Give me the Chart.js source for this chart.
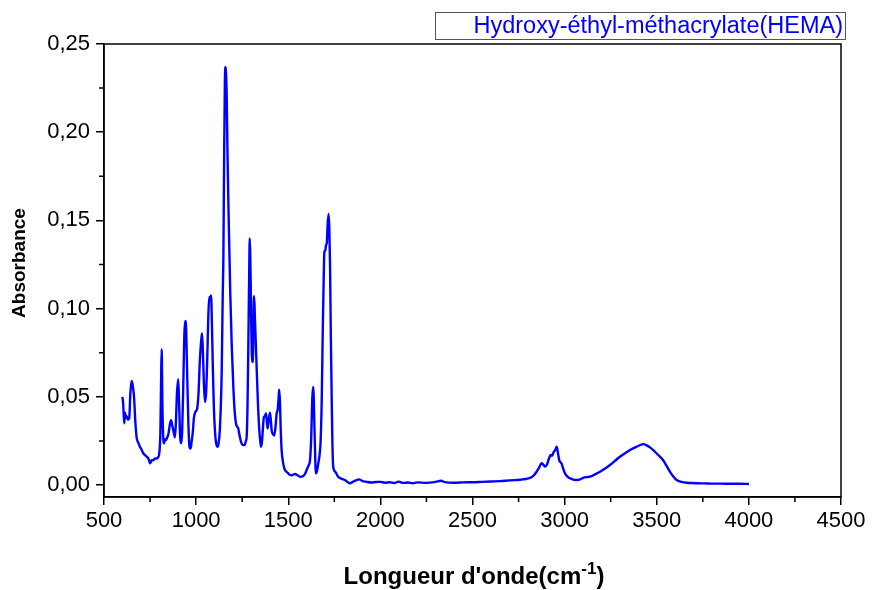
<!DOCTYPE html>
<html><head><meta charset="utf-8">
<script src="https://cdn.jsdelivr.net/npm/chart.js@4.4.1/dist/chart.umd.min.js"></script>
<style>html,body{margin:0;padding:0;background:#fff;}#wrap{width:873px;height:590px;}</style>
</head><body><div id="wrap"><canvas id="c" width="873" height="590"></canvas></div>
<script>
const waveNumbers = [600,604,610,614,619,623,630,637,643,650,655,663,670,677,686,695,704,713,722,732,741,750,759,768,777,786,795,800,806,810,813,817,822,826,831,836,843,850,857,864,870,876,880,885,890,896,903,908,913,918,924,930,936,941,946,952,958,964,970,976,982,988,994,1000,1006,1013,1020,1026,1032,1037,1042,1048,1054,1060,1066,1071,1076,1081,1086,1091,1096,1102,1108,1115,1121,1128,1134,1139,1144,1148,1152,1156,1159,1162,1166,1170,1175,1180,1185,1193,1202,1209,1216,1223,1229,1234,1238,1245,1253,1260,1265,1270,1274,1279,1284,1288,1291,1294,1298,1302,1305,1309,1312,1315,1319,1324,1329,1336,1343,1348,1352,1358,1363,1368,1373,1379,1384,1388,1394,1401,1406,1410,1416,1423,1430,1437,1443,1448,1451,1455,1459,1464,1473,1482,1491,1500,1509,1520,1530,1537,1550,1564,1580,1592,1600,1610,1618,1625,1630,1634,1637,1640,1644,1648,1651,1656,1663,1670,1676,1682,1687,1692,1696,1701,1705,1709,1714,1719,1723,1727,1731,1736,1740,1744,1755,1771,1790,1808,1820,1835,1850,1871,1885,1900,1925,1950,1975,2000,2025,2050,2075,2100,2125,2150,2175,2200,2250,2300,2330,2350,2400,2450,2500,2550,2600,2650,2700,2758,2790,2812,2830,2848,2862,2875,2885,2893,2905,2915,2925,2932,2940,2950,2957,2964,2971,2978,2984,2993,3002,3015,3029,3047,3065,3085,3101,3120,3137,3165,3192,3220,3246,3273,3300,3328,3355,3380,3405,3427,3450,3465,3481,3508,3535,3555,3572,3590,3608,3635,3662,3690,3717,3760,3800,3850,3900,3950,4000];
const absorbance = [0.050,0.046,0.035,0.041,0.038,0.039,0.037,0.038,0.052,0.059,0.057,0.050,0.036,0.027,0.024,0.0217,0.020,0.018,0.017,0.016,0.015,0.0123,0.014,0.014,0.015,0.015,0.016,0.018,0.030,0.060,0.077,0.045,0.026,0.0236,0.026,0.0255,0.027,0.029,0.034,0.0368,0.034,0.031,0.029,0.027,0.035,0.052,0.060,0.045,0.028,0.0236,0.030,0.055,0.085,0.093,0.088,0.060,0.035,0.0215,0.0207,0.025,0.030,0.038,0.041,0.042,0.0435,0.052,0.070,0.080,0.086,0.075,0.058,0.047,0.052,0.070,0.095,0.1065,0.106,0.1075,0.090,0.065,0.045,0.031,0.024,0.0217,0.023,0.030,0.045,0.065,0.105,0.130,0.185,0.228,0.237,0.234,0.220,0.190,0.160,0.135,0.110,0.080,0.0556,0.042,0.035,0.033,0.032,0.029,0.027,0.024,0.0226,0.0226,0.023,0.025,0.027,0.045,0.085,0.120,0.1397,0.130,0.100,0.075,0.0697,0.075,0.100,0.107,0.095,0.080,0.065,0.045,0.031,0.025,0.0217,0.025,0.033,0.0386,0.039,0.0405,0.036,0.032,0.037,0.041,0.036,0.031,0.029,0.028,0.032,0.0405,0.043,0.050,0.054,0.047,0.032,0.0198,0.012,0.0085,0.0075,0.0066,0.0057,0.0055,0.0060,0.0062,0.0055,0.0047,0.0050,0.0065,0.0085,0.011,0.014,0.028,0.048,0.054,0.0556,0.042,0.025,0.010,0.0066,0.008,0.0123,0.017,0.0255,0.050,0.0858,0.115,0.132,0.133,0.136,0.137,0.148,0.1537,0.145,0.1235,0.085,0.048,0.022,0.0104,0.0075,0.0047,0.0035,0.0028,0.0018,0.0010,0.0018,0.0028,0.0032,0.0024,0.0018,0.0014,0.0017,0.0018,0.0013,0.0016,0.0011,0.0019,0.0012,0.0014,0.0010,0.0015,0.0012,0.0018,0.0024,0.0016,0.0013,0.0015,0.0016,0.0018,0.0020,0.0022,0.0026,0.0030,0.0034,0.0040,0.0052,0.0075,0.0100,0.0123,0.0115,0.0105,0.0118,0.015,0.017,0.0165,0.0185,0.020,0.0217,0.018,0.014,0.0128,0.0120,0.0090,0.0066,0.0048,0.0038,0.0031,0.0028,0.0032,0.0041,0.0045,0.0047,0.0060,0.0075,0.0094,0.0113,0.0137,0.0160,0.0180,0.0198,0.0212,0.0224,0.0232,0.0222,0.0212,0.0198,0.0170,0.0140,0.0105,0.0075,0.0048,0.0028,0.0018,0.0013,0.0011,0.0010,0.0009,0.0008,0.0008,0.0007,0.0007,0.0006];
const xMajorTicks = [500,1000,1500,2000,2500,3000,3500,4000,4500];
const xMinorTicks = [750,1250,1750,2250,2750,3250,3750,4250];
const yMajorTicks = [0,0.05,0.10,0.15,0.20,0.25];
const yMinorTicks = [0.025,0.075,0.125,0.175,0.225];
const seriesLabel = 'Hydroxy-éthyl-méthacrylate(HEMA)';
const xTitleMain = "Longueur d'onde(cm";
const xTitleSup = '-1';
const xTitleEnd = ')';
const yTitle = 'Absorbance';

const FONT = '"Liberation Sans", Arial, sans-serif';

const decor = {
  id: 'decor',
  afterDraw(chart) {
    const ctx = chart.ctx, a = chart.chartArea;
    const xs = chart.scales.x, ys = chart.scales.y;
    ctx.save();
    ctx.strokeStyle = '#000';
    ctx.lineWidth = 1.5;
    ctx.strokeRect(a.left, a.top, a.right - a.left, a.bottom - a.top);
    ctx.beginPath();
    xMinorTicks.forEach(v => { const p = xs.getPixelForValue(v); ctx.moveTo(p, a.bottom); ctx.lineTo(p, a.bottom + 5); });
    yMinorTicks.forEach(v => { const p = ys.getPixelForValue(v); ctx.moveTo(a.left, p); ctx.lineTo(a.left - 5, p); });
    ctx.stroke();
    ctx.fillStyle = '#000';
    ctx.font = 'bold 19px ' + FONT;
    ctx.textAlign = 'center'; ctx.textBaseline = 'middle';
    ctx.translate(20, 263); ctx.rotate(-Math.PI/2);
    ctx.fillText(yTitle, 0, 0);
    ctx.setTransform(1,0,0,1,0,0);
    const mainF = 'bold 24px ' + FONT, supF = 'bold 17px ' + FONT;
    ctx.font = mainF; const w1 = ctx.measureText(xTitleMain).width; const w3 = ctx.measureText(xTitleEnd).width;
    ctx.font = supF; const w2 = ctx.measureText(xTitleSup).width;
    let x0 = 474 - (w1 + w2 + w3) / 2; const base = 584;
    ctx.textAlign = 'left'; ctx.textBaseline = 'alphabetic';
    ctx.font = mainF; ctx.fillText(xTitleMain, x0, base);
    ctx.font = supF; ctx.fillText(xTitleSup, x0 + w1, base - 10);
    ctx.font = mainF; ctx.fillText(xTitleEnd, x0 + w1 + w2, base);
    ctx.strokeStyle = '#555'; ctx.lineWidth = 1;
    ctx.strokeRect(435.5, 12.5, 410, 27);
    ctx.fillStyle = chart.data.datasets[0].borderColor;
    ctx.font = '23.5px ' + FONT;
    ctx.textAlign = 'right'; ctx.textBaseline = 'middle';
    ctx.fillText(chart.data.datasets[0].label, 843, 27);
    ctx.restore();
  }
};

new Chart(document.getElementById('c'), {
  type: 'line',
  data: {
    datasets: [{
      label: seriesLabel,
      data: waveNumbers.map((x, i) => ({x: x, y: absorbance[i]})),
      borderColor: '#0000ff',
      borderWidth: 2.4,
      pointRadius: 0,
      fill: false,
      cubicInterpolationMode: 'monotone'
    }]
  },
  options: {
    responsive: false,
    animation: false,
    devicePixelRatio: 1,
    layout: { padding: { top: 44, right: 32, left: 0, bottom: 0 } },
    plugins: { legend: { display: false }, tooltip: { enabled: false } },
    scales: {
      x: {
        type: 'linear', min: 500, max: 4500,
        afterBuildTicks: s => { s.ticks = xMajorTicks.map(v => ({value: v})); },
        afterFit: s => { s.height = 93; },
        ticks: { autoSkip: false, maxRotation: 0, color: '#000', padding: 3, font: { family: FONT, size: 22 }, callback: v => String(v) },
        grid: { drawOnChartArea: false, tickLength: 8, color: '#000', lineWidth: 1.5 },
        border: { display: true, color: '#000', width: 1.5 }
      },
      y: {
        type: 'linear', min: -0.0068, max: 0.25,
        afterBuildTicks: s => { s.ticks = yMajorTicks.map(v => ({value: v})); },
        afterFit: s => { s.width = 104; },
        ticks: { autoSkip: false, color: '#000', padding: 6, font: { family: FONT, size: 22 }, callback: v => v.toFixed(2).replace('.', ',') },
        grid: { drawOnChartArea: false, tickLength: 8, color: '#000', lineWidth: 1.5 },
        border: { display: true, color: '#000', width: 1.5 }
      }
    }
  },
  plugins: [decor]
});
</script></body></html>
